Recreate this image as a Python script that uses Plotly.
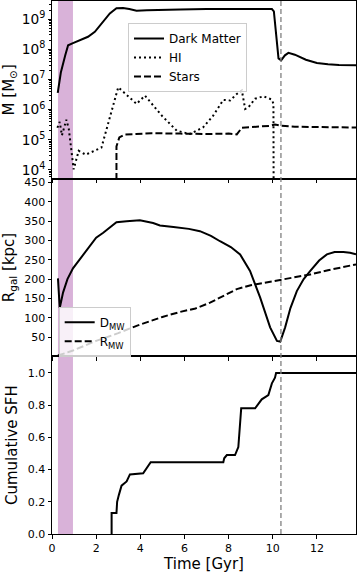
import plotly.graph_objects as go
from plotly.subplots import make_subplots

# ---- data ----
dm_t = [0.26, 0.4, 0.6, 0.73, 0.95, 1.3, 1.63, 1.94, 2.17, 2.39, 2.62, 2.92, 3.22, 3.5, 3.83, 4.3, 5.0, 5.8, 7.0, 8.0, 9.0, 9.96, 10.05, 10.15, 10.26, 10.38, 10.55, 10.71, 11.0, 11.5, 12.0, 12.5, 13.0, 13.77]
dm_m = [3.6e6, 1.7e7, 6.3e7, 1.35e8, 1.6e8, 2.0e8, 2.6e8, 3.8e8, 6.3e8, 9.3e8, 1.55e9, 2.3e9, 2.35e9, 2.15e9, 1.9e9, 1.95e9, 2.05e9, 2.1e9, 2.15e9, 2.15e9, 2.15e9, 2.15e9, 1.8e9, 3.4e8, 5.0e7, 4.3e7, 6.3e7, 7.6e7, 6.6e7, 4.5e7, 3.5e7, 3.2e7, 3.0e7, 2.95e7]

hi_t = [0.245, 0.35, 0.45, 0.55, 0.65, 0.76, 0.98, 1.21, 1.53, 2.24, 2.62, 3.0, 3.83, 4.21, 5.0, 5.65, 6.25, 6.85, 7.3, 7.76, 8.07, 8.37, 8.6, 8.75, 8.9, 9.2, 9.58, 9.96, 10.03, 10.04]
hi_m = [2.5e5, 3.9e5, 1.4e5, 2.5e5, 4.6e5, 2.3e5, 1.05e4, 4.3e4, 3.2e4, 5.5e4, 5.5e5, 5.5e6, 1.55e6, 2.9e6, 6.0e5, 2.0e5, 1.55e5, 2.6e5, 6.3e5, 2.1e6, 2.0e6, 3.3e6, 4.3e6, 1.05e6, 1.2e6, 2.3e6, 2.75e6, 2.15e6, 1.55e6, 1.0e3]

st_t = [2.92, 2.92, 3.05, 3.3, 3.8, 4.5, 5.8, 7.0, 8.0, 8.37, 8.6, 9.0, 9.88, 10.1, 10.4, 11.0, 12.0, 13.77]
st_m = [1.0e3, 6.0e4, 1.2e5, 1.5e5, 1.55e5, 1.65e5, 1.6e5, 1.55e5, 1.6e5, 1.5e5, 2.5e5, 2.6e5, 2.9e5, 3.2e5, 2.9e5, 2.7e5, 2.6e5, 2.55e5]

d_t = [0.27, 0.35, 0.5, 0.7, 0.95, 1.41, 2.0, 2.32, 2.92, 3.38, 3.98, 4.58, 4.89, 5.5, 6.2, 6.7, 7.2, 7.61, 8.1, 8.52, 8.97, 9.43, 9.88, 10.19, 10.34, 10.56, 10.8, 11.09, 11.4, 11.7, 12.1, 12.45, 12.8, 13.2, 13.5, 13.77]
d_r = [202, 125, 165, 200, 228, 264, 307, 320, 347, 350, 352, 345, 339, 335, 330, 324, 312, 298, 283, 264, 221, 152, 75, 40, 38, 75, 125, 169, 200, 221, 248, 264, 270, 270, 268, 264]

r_t = [0.27, 0.95, 2.0, 3.0, 3.83, 5.0, 5.8, 6.5, 7.16, 7.8, 8.37, 9.0, 10.34, 11.0, 11.7, 12.5, 13.77]
r_r = [2, 15, 40, 60, 79, 102, 115, 124, 139, 157, 174, 184, 197, 205, 212, 223, 238]

sfh_t = [2.7, 2.7, 2.92, 2.95, 3.03, 3.15, 3.38, 3.53, 4.13, 4.28, 4.47, 7.76, 7.8, 7.92, 8.29, 8.44, 8.52, 8.57, 9.2, 9.35, 9.5, 9.8, 9.9, 9.96, 10.1, 10.15, 13.77]
sfh_c = [0.0, 0.13, 0.13, 0.2, 0.243, 0.30, 0.326, 0.37, 0.377, 0.41, 0.446, 0.446, 0.47, 0.49, 0.49, 0.54, 0.70, 0.78, 0.78, 0.81, 0.836, 0.862, 0.90, 0.935, 0.97, 1.0, 1.0]

band = [0.27, 0.95]
t_event = 10.37
x_ticks = [0, 2, 4, 6, 8, 10, 12]
r_ticks = [50, 100, 150, 200, 250, 300, 350, 400, 450]
sfh_ticks = [0.0, 0.2, 0.4, 0.6, 0.8, 1.0]

FONT = "DejaVu Sans"

fig = make_subplots(rows=3, cols=1, shared_xaxes=True, vertical_spacing=0)

fig.add_trace(go.Scatter(x=dm_t, y=dm_m, mode="lines", name="Dark Matter",
                         line=dict(color="black", width=2), legend="legend"), row=1, col=1)
fig.add_trace(go.Scatter(x=hi_t, y=hi_m, mode="lines", name="HI",
                         line=dict(color="black", width=2, dash="2px,3px"), legend="legend"), row=1, col=1)
fig.add_trace(go.Scatter(x=st_t, y=st_m, mode="lines", name="Stars",
                         line=dict(color="black", width=2, dash="7px,3px"), legend="legend"), row=1, col=1)

fig.add_trace(go.Scatter(x=d_t, y=d_r, mode="lines", name="D<sub>MW</sub>",
                         line=dict(color="black", width=2), legend="legend2"), row=2, col=1)
fig.add_trace(go.Scatter(x=r_t, y=r_r, mode="lines", name="R<sub>MW</sub>",
                         line=dict(color="black", width=2, dash="7px,3px"), legend="legend2"), row=2, col=1)

fig.add_trace(go.Scatter(x=sfh_t, y=sfh_c, mode="lines", showlegend=False,
                         line=dict(color="black", width=2)), row=3, col=1)

# purple band and event line
fig.add_shape(type="rect", xref="x", yref="paper", x0=band[0], x1=band[1], y0=0, y1=1,
              fillcolor="rgb(217,178,217)", line=dict(width=0), layer="below")
fig.add_shape(type="line", xref="x", yref="paper", x0=t_event, x1=t_event, y0=0, y1=1,
              line=dict(color="gray", width=1.3, dash="5px,3px"))

axis_common = dict(showline=True, mirror=True, linecolor="black", linewidth=1,
                   ticks="outside", ticklen=3.5, tickwidth=1, tickcolor="black",
                   showgrid=False, zeroline=False, automargin=False,
                   tickfont=dict(family=FONT, size=11, color="black"))

for i in (1, 2, 3):
    fig.update_xaxes(range=[0, 13.77], tickvals=x_ticks, showticklabels=(i == 3),
                     row=i, col=1, **axis_common)

fig.update_xaxes(title=dict(text="Time [Gyr]", font=dict(family=FONT, size=15, color="black"), standoff=2),
                 row=3, col=1)

fig.update_yaxes(type="log", range=[3.71, 9.6], dtick=1, exponentformat="power",
                 minor=dict(ticks="outside", ticklen=2, tickcolor="black"),
                 title=dict(text="M [M<sub>⊙</sub>]", font=dict(family=FONT, size=15, color="black"), standoff=6),
                 row=1, col=1, **axis_common)
fig.update_yaxes(range=[0, 460], tickvals=r_ticks,
                 title=dict(text="R<sub>gal</sub> [kpc]", font=dict(family=FONT, size=15, color="black"), standoff=6),
                 row=2, col=1, **axis_common)
fig.update_yaxes(range=[0, 1.103], tickvals=sfh_ticks, tickformat=".1f",
                 title=dict(text="Cumulative SFH", font=dict(family=FONT, size=15, color="black"), standoff=6),
                 row=3, col=1, **axis_common)

fig.update_layout(
    width=357, height=574,
    margin=dict(l=52, r=1, t=1, b=40),
    paper_bgcolor="white", plot_bgcolor="white",
    font=dict(family=FONT, color="black"),
    legend=dict(x=0.25, y=0.9587, xanchor="left", yanchor="top",
                bgcolor="rgba(255,255,255,0.8)", bordercolor="#cccccc", borderwidth=1,
                font=dict(family=FONT, size=12, color="black"), tracegroupgap=0),
    legend2=dict(x=0.022, y=0.4262, xanchor="left", yanchor="top",
                 bgcolor="rgba(255,255,255,0.8)", bordercolor="#cccccc", borderwidth=1,
                 font=dict(family=FONT, size=12, color="black")),
)

fig.write_html("out.html", config={"displayModeBar": False},
               post_script="document.body.style.margin='0px';")
